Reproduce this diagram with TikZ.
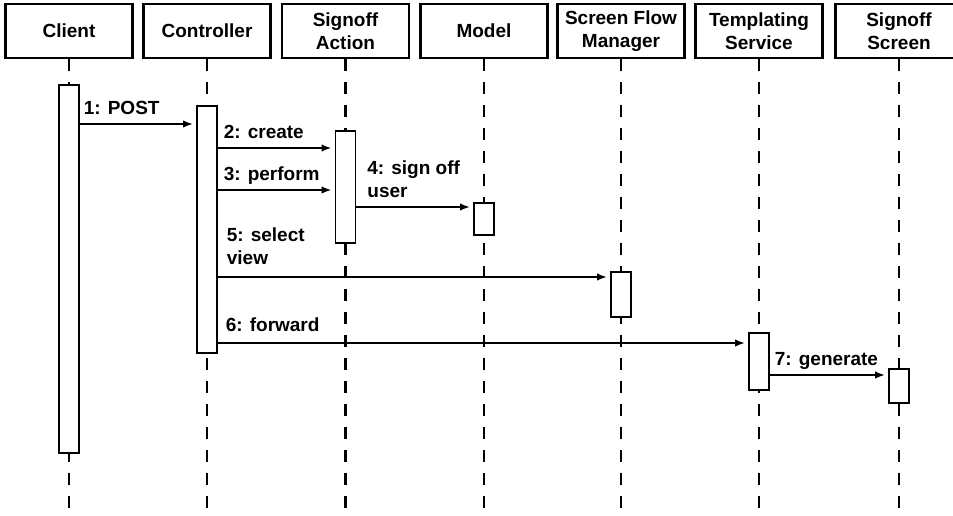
\documentclass[tikz,border=0pt]{standalone}
\usepackage{fontspec}
\setmainfont{Liberation Sans}
\usetikzlibrary{arrows.meta}

\begin{document}
\begin{tikzpicture}[x=1pt, y=-1pt, font=\fontsize{19}{23}\selectfont\bfseries ,
object/.style={rectangle, draw, line width=2.6pt, minimum width=127pt, minimum height=54pt, align=center, inner sep=0pt} ,
lifeline/.style={line width=2.4pt, dash pattern=on 12pt off 11pt} ,
activation/.style={rectangle, draw, fill=white, line width=1.9pt, minimum width=20pt, inner sep=0pt} ,
msg/.style={line width=1.9pt, shorten >=3pt, -{Latex[length=10pt, width=7.5pt]}} ,
msgLabel/.style={pos=0, anchor=south west, align=left, inner sep=0pt, text depth=0pt, xshift=5pt, yshift=9pt}
]
\useasboundingbox (0,0) rectangle (953,516) ;
\clip (0,0) rectangle (953,516) ;

% objects
\node (client) [object] at (69,31) {Client} ;
\node (controller) [object] at (207,31) {Controller} ;
\node (action) [object] at (345.5,31) {Signoff\\Action} ;
\node (model) [object] at (484,31) {Model} ;
\node (flow) [object] at (621,31) {Screen Flow\\Manager} ;
\node (templating) [object] at (759,31) {Templating\\Service} ;
\node (screen) [object] at (899,31) {Signoff\\Screen} ;

% lifelines
\coordinate (bottom) at (0,516) ;
\foreach \obj in {client, controller, action, model, flow, templating, screen}
    \draw [lifeline] (\obj.south) -- (\obj |- bottom) ;

% activations
\node (actClient) [activation, minimum height=368pt] at (client |- 0,269) {} ;
\node (actController) [activation, minimum height=247pt] at (controller |- 0,229.5) {} ;
\node (actAction) [activation, minimum height=112pt] at (action |- 0,187) {} ;
\node (actModel) [activation, minimum height=32pt] at (model |- 0,219) {} ;
\node (actFlow) [activation, minimum height=45pt] at (flow |- 0,294.5) {} ;
\node (actTemplating) [activation, minimum height=57pt] at (templating |- 0,361.5) {} ;
\node (actScreen) [activation, minimum height=34pt] at (screen |- 0,386) {} ;

% messages
\draw [msg] (actClient.east |- 0,124) -- (actController.west |- 0,124) node [msgLabel, xshift=-2pt] {1: POST} ;
\draw [msg] (actController.east |- 0,148) -- (actAction.west |- 0,148) node [msgLabel] {2: create} ;
\draw [msg] (actController.east |- 0,190) -- (actAction.west |- 0,190) node [msgLabel] {3: perform} ;
\draw [msg] (actAction.east |- 0,207) -- (actModel.west |- 0,207) node [msgLabel, xshift=5pt] {4: sign off\\user} ;
\draw [msg] (actController.east |- 0,277) -- (actFlow.west |- 0,277) node [msgLabel, xshift=3pt, yshift=3pt] {5: select\\view} ;
\draw [msg] (actController.east |- 0,343) -- (actTemplating.west |- 0,343) node [msgLabel, xshift=2pt, yshift=2pt] {6: forward} ;
\draw [msg] (actTemplating.east |- 0,375) -- (actScreen.west |- 0,375) node [msgLabel, xshift=-1pt] {7: generate} ;
\end{tikzpicture}
\end{document}
